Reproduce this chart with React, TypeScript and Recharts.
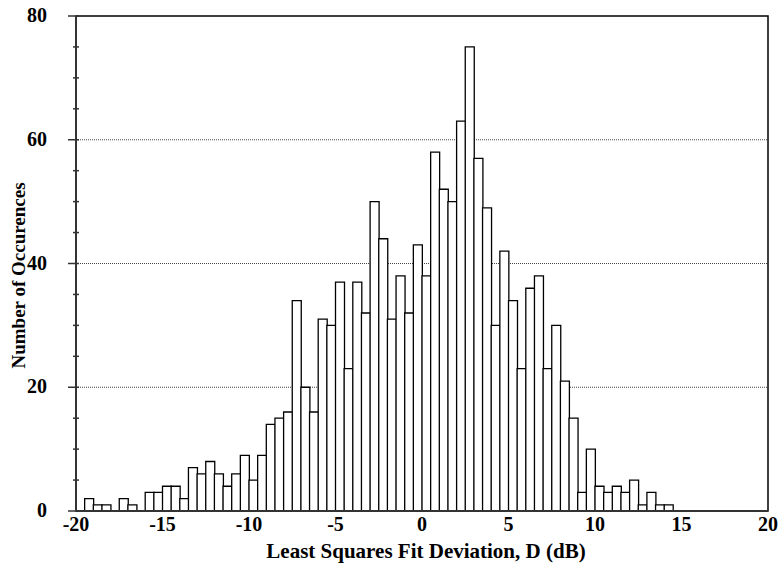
import { BarChart, Bar, XAxis, YAxis, CartesianGrid, ReferenceArea } from "recharts";

// left edge of each 0.5 dB bin
const binStart = [
  -20, -19.5, -19, -18.5, -18, -17.5, -17, -16.5, -16, -15.5,
  -15, -14.5, -14, -13.5, -13, -12.5, -12, -11.5, -11, -10.5,
  -10, -9.5, -9, -8.5, -8, -7.5, -7, -6.5, -6, -5.5,
  -5, -4.5, -4, -3.5, -3, -2.5, -2, -1.5, -1, -0.5,
  0, 0.5, 1, 1.5, 2, 2.5, 3, 3.5, 4, 4.5,
  5, 5.5, 6, 6.5, 7, 7.5, 8, 8.5, 9, 9.5,
  10, 10.5, 11, 11.5, 12, 12.5, 13, 13.5, 14, 14.5,
  15, 15.5, 16, 16.5, 17, 17.5, 18, 18.5, 19, 19.5,
];

const counts = [
  0, 2, 1, 1, 0, 2, 1, 0, 3, 3,
  4, 4, 2, 7, 6, 8, 6, 4, 6, 9,
  5, 9, 14, 15, 16, 34, 20, 16, 31, 30,
  37, 23, 37, 32, 50, 44, 31, 38, 32, 43,
  38, 58, 52, 50, 63, 75, 57, 49, 30, 42,
  34, 23, 36, 38, 23, 30, 21, 15, 3, 10,
  4, 3, 4, 3, 5, 1, 3, 1, 1, 0,
  0, 0, 0, 0, 0, 0, 0, 0, 0, 0,
];

const binWidth = 0.5;
const xTicks = [-20, -15, -10, -5, 0, 5, 10, 15, 20];
const yTicks = [0, 5, 10, 15, 20, 25, 30, 35, 40, 45, 50, 55, 60, 65, 70, 75, 80];
const yGrid = [20, 40, 60];

const data = binStart.map((b, i) => ({ center: b + binWidth / 2, count: counts[i] }));

const font = "'Liberation Serif', 'Times New Roman', serif";

// eslint-disable-next-line @typescript-eslint/no-explicit-any
function YTick({ x, y, payload }: any) {
  const v = payload.value as number;
  const major = v % 20 === 0;
  return (
    <g>
      <line
        x1={major ? x - 8 : x - 3}
        x2={x + 3}
        y1={y}
        y2={y}
        stroke="#333"
        strokeWidth={1.5}
      />
      {major && (
        <text
          x={x - 29}
          y={y}
          dy={6}
          textAnchor="end"
          fontFamily={font}
          fontWeight="bold"
          fontSize={20}
          fill="#000"
        >
          {v}
        </text>
      )}
    </g>
  );
}

export default function App() {
  return (
    <div style={{ position: "absolute", left: 0, top: 0, background: "#fff" }}>
      <BarChart
        width={780}
        height={571}
        data={data}
        margin={{ top: 16, right: 12, bottom: 0, left: 0 }}
        barCategoryGap={0}
        barGap={0}
      >
        <CartesianGrid
          vertical={false}
          horizontalValues={yGrid}
          stroke="#444"
          strokeDasharray="1 1"
        />
        <XAxis
          dataKey="center"
          type="number"
          domain={[-20, 20]}
          allowDataOverflow
          ticks={xTicks}
          interval={0}
          height={60}
          axisLine={{ stroke: "#333", strokeWidth: 2 }}
          tickLine={false}
          tickSize={0}
          tickMargin={6}
          tick={{ fontFamily: font, fontWeight: "bold", fontSize: 20, fill: "#000" }}
          label={{
            // eslint-disable-next-line @typescript-eslint/no-explicit-any
            content: (p: any) => (
              <text
                x={p.viewBox.x + p.viewBox.width / 2 + 4}
                y={p.viewBox.y + 47}
                textAnchor="middle"
                fontFamily={font}
                fontWeight="bold"
                fontSize={21}
                fill="#000"
              >
                Least Squares Fit Deviation, D (dB)
              </text>
            ),
          }}
        />
        <YAxis
          domain={[0, 80]}
          ticks={yTicks}
          interval={0}
          width={76}
          axisLine={{ stroke: "#333", strokeWidth: 2 }}
          tickLine={false}
          tickSize={0}
          tickMargin={0}
          tick={<YTick />}
          label={{
            // eslint-disable-next-line @typescript-eslint/no-explicit-any
            content: (p: any) => {
              const cy = p.viewBox.y + p.viewBox.height / 2 + 12;
              return (
                <text
                  x={18}
                  y={cy}
                  transform={`rotate(-90, 18, ${cy})`}
                  textAnchor="middle"
                  dominantBaseline="central"
                  fontFamily={font}
                  fontWeight="bold"
                  fontSize={19}
                  fill="#000"
                >
                  Number of Occurences
                </text>
              );
            },
          }}
        />
        <Bar
          dataKey="count"
          fill="#fff"
          stroke="#000"
          strokeWidth={1.3}
          isAnimationActive={false}
        />
        <ReferenceArea
          x1={-20}
          x2={20}
          y1={0}
          y2={80}
          ifOverflow="visible"
          fill="none"
          fillOpacity={0}
          stroke="#000"
          strokeWidth={1.5}
        />
      </BarChart>
    </div>
  );
}
